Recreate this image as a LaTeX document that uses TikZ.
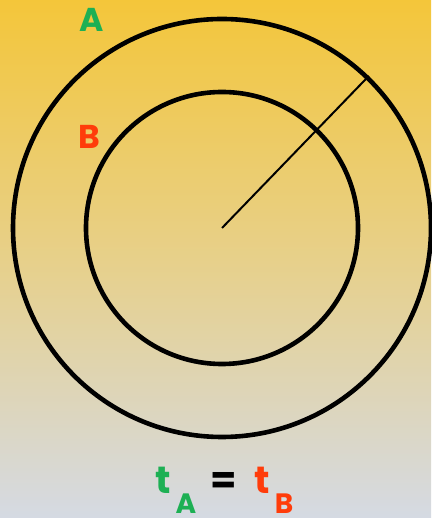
\documentclass[tikz,border=0pt]{standalone}
\usepackage{fontspec}
\setmainfont{Poppins}
\definecolor{bgtop}{HTML}{F4C63A}
\definecolor{bgmid}{HTML}{E7D08A}
\definecolor{bgbot}{HTML}{D5DAE3}
\definecolor{lblgreen}{HTML}{1DB054}
\definecolor{lblred}{HTML}{FF3C0A}
\begin{document}
\begin{tikzpicture}[x=1pt,y=1pt,
  ring/.style={circle,draw=black,line width=4.6pt,inner sep=0pt,minimum size=#1},
  lbl/.style={inner sep=0pt,font=\fontsize{33}{36}\selectfont\bfseries},
  sub/.style={inner sep=0pt,anchor=base,font=\fontsize{28}{30}\selectfont\bfseries},
  big/.style={inner sep=0pt,anchor=base,font=\fontsize{38}{40}\selectfont\bfseries}]
\useasboundingbox (0,0) rectangle (431,518);
\shade[top color=bgtop,bottom color=bgbot,middle color=bgmid] (0,0) rectangle (431,518);
\coordinate (c) at (222,290);
\node[ring=418pt] (outer) at (c) {};
\node[ring=272pt] (inner) at (c) {};
\draw[line width=2pt] (c) -- (outer.46);
\node[lbl,text=lblgreen] (la) at (92,498) {A};
\node[lbl,text=lblred] (lb) at (89,381) {B};
\node[big,text=lblgreen] (ta) at (163,24) {t};
\node[sub,text=lblgreen] (sa) at (186,5) {A};
\node[big] (eq) at (224,24) {=};
\node[big,text=lblred] (tb) at (262,24) {t};
\node[sub,text=lblred] (sb) at (284,5) {B};
\end{tikzpicture}
\end{document}
